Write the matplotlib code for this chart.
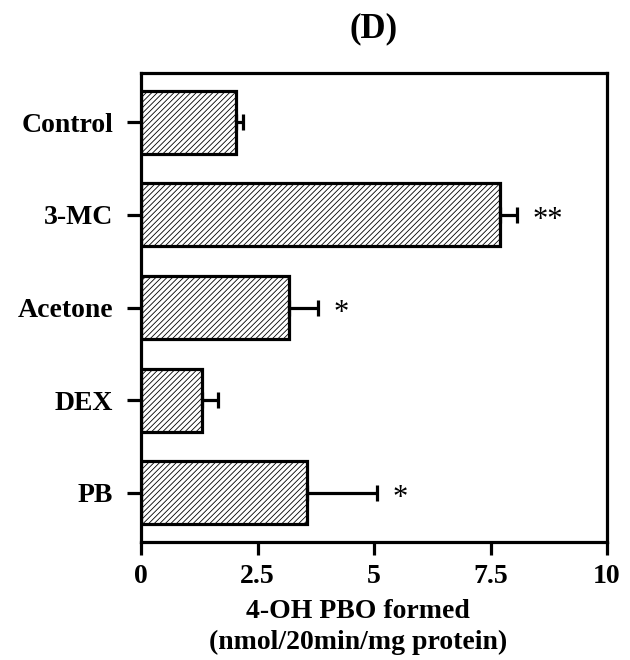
import matplotlib
matplotlib.use("Agg")
import matplotlib.pyplot as plt

categories = ["Control", "3-MC", "Acetone", "DEX", "PB"]
means = [2.04, 7.70, 3.18, 1.30, 3.56]
errors = [0.15, 0.37, 0.62, 0.36, 1.50]
marks = ["", "**", "*", "", "*"]
xticks = [0, 2.5, 5, 7.5, 10]
xtick_labels = ["0", "2.5", "5", "7.5", "10"]

plt.rcParams['font.family'] = ['Liberation Serif', 'DejaVu Serif']
plt.rcParams['hatch.linewidth'] = 0.6
plt.rcParams['hatch.color'] = '#333333'

fig = plt.figure(figsize=(6.3, 6.6), dpi=100)
ax = fig.add_axes([141/630, 1 - 542/660, 466/630, 469/660])

y = list(range(len(categories)))
ax.barh(y, means, height=0.68, color='white', edgecolor='black',
        linewidth=2.3, hatch='//////', zorder=2)
ax.errorbar(means, y, xerr=[[0]*len(means), errors], fmt='none',
            ecolor='black', elinewidth=2.3, capsize=5.5, capthick=2.3, zorder=3)

for yi, m, e, s in zip(y, means, errors, marks):
    if s:
        ax.text(m + e + 0.33, yi + 0.06, s, fontsize=22, ha='left', va='center')

ax.set_xlim(0, 10)
ax.set_ylim(4.53, -0.53)
ax.set_yticks(y)
ax.set_yticklabels(categories, fontsize=20, fontweight='bold')
ax.set_xticks(xticks)
ax.set_xticklabels(xtick_labels, fontsize=20, fontweight='bold')
ax.tick_params(axis='y', direction='out', length=10, width=2.3, pad=10)
ax.tick_params(axis='x', direction='out', length=9, width=2.3, pad=7)
for sp in ax.spines.values():
    sp.set_linewidth(2.3)

ax.set_xlabel("4-OH PBO formed\n(nmol/20min/mg protein)", fontsize=20,
              fontweight='bold', linespacing=1.3)
ax.xaxis.set_label_coords(0.465, -0.122)
ax.set_title("(D)", fontsize=25, fontweight='bold', pad=26)

fig.savefig("out.png", dpi=100)
